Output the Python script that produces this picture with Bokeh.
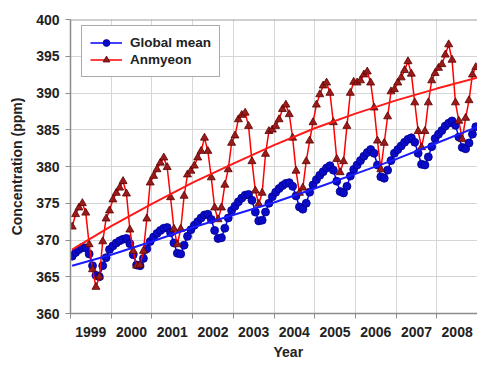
from bokeh.plotting import figure
from bokeh.models import (Range1d, FixedTicker, CustomJSTickFormatter, Span, Title,
                          Legend, LegendItem)
from bokeh.embed import file_html
from bokeh.resources import INLINE

years = list(range(1999, 2009))
year_labels = [str(y) for y in years]
y_ticks = [360, 365, 370, 375, 380, 385, 390, 395, 400]

anmyeon = [
    371.8, 373.5, 374.4, 375.0, 373.7, 369.4, 366.0, 363.6, 365.0, 369.8, 372.9, 374.0,
    375.5, 376.4, 377.1, 378.0, 376.3, 371.4, 368.5, 366.5, 366.6, 368.5, 372.9, 377.8,
    378.7, 379.6, 380.5, 381.2, 379.9, 375.8, 371.5, 369.4, 371.5, 376.0, 378.9, 379.4,
    380.1, 381.2, 382.1, 383.9, 382.1, 378.5, 374.4, 372.8, 374.4, 377.5, 379.6, 383.2,
    384.2, 386.4, 387.0, 387.3, 385.5, 380.7, 376.7, 374.9, 376.4, 381.7, 384.8, 385.0,
    385.5, 386.4, 387.8, 388.4, 387.1, 383.9, 379.4, 376.4, 377.1, 380.7, 383.5, 386.0,
    388.4, 389.8, 391.0, 391.4, 390.0, 386.0, 381.0, 379.2, 380.7, 385.5, 390.0, 391.5,
    391.4, 391.7, 392.5, 392.9, 391.4, 388.0, 383.5, 379.6, 383.2, 386.8, 390.2, 390.5,
    391.4, 392.1, 393.1, 394.3, 392.6, 388.7, 384.8, 382.6, 384.8, 388.7, 391.7, 392.7,
    393.4, 393.9, 395.2, 396.6, 394.5, 388.7, 386.2, 383.7, 386.6, 389.0, 392.5, 393.5,
]

global_mean = [
    367.8, 368.3, 368.7, 369.0, 368.9, 368.1, 366.5, 365.2, 365.0, 366.5, 367.6, 368.7,
    369.2, 369.6, 369.9, 370.1, 370.2, 369.5, 368.0, 366.6, 366.5, 367.5, 368.8, 369.8,
    370.4, 370.9, 371.3, 371.6, 371.7, 371.0, 369.6, 368.2, 368.1, 369.3, 370.5, 371.4,
    372.0, 372.5, 373.0, 373.4, 373.5, 372.8, 371.3, 370.2, 370.3, 371.6, 373.0, 374.0,
    374.6, 375.2, 375.7, 376.1, 376.2, 375.4, 373.8, 372.6, 372.7, 373.8, 375.0, 375.9,
    376.5, 377.0, 377.4, 377.7, 377.8, 377.3, 376.0, 374.5, 374.2, 375.0, 376.5, 377.5,
    378.2, 378.8, 379.3, 379.8, 380.1, 379.5, 378.0, 376.6, 376.4, 377.3, 378.7, 379.6,
    380.2, 380.8, 381.4, 381.9, 382.3, 381.8, 380.2, 378.6, 378.4, 379.5, 380.8, 381.8,
    382.3, 382.8, 383.3, 383.7, 383.9, 383.3, 381.8, 380.3, 380.2, 381.3, 382.7, 383.8,
    384.4, 384.9, 385.5, 385.9, 386.2, 385.6, 384.0, 382.6, 382.4, 383.2, 384.4, 385.4,
]

trend_years = [1999.04, 2000, 2001, 2002, 2003, 2004, 2005, 2006, 2007, 2008, 2009]
anmyeon_trend = [368.7, 371.9, 374.9, 377.8, 380.4, 382.9, 385.2, 387.2, 389.0, 390.6, 392.1]
global_trend = [366.5, 368.0, 369.8, 371.7, 373.4, 375.1, 377.0, 379.0, 381.0, 383.2, 385.4]

# month centres as decimal years
t = [y + (m + 0.5) / 12 for y in years for m in range(12)]

FONT = "Liberation Sans"
TXT = "#222222"
AX = "#8c8c8c"
GRID = "#d6d6d6"

p = figure(width=477, height=364, output_backend="svg", toolbar_location=None,
           x_range=Range1d(1999, 2009), y_range=Range1d(360, 400),
           min_border_left=70, min_border_right=0, min_border_top=19,
           min_border_bottom=51)
p.outline_line_color = None
p.background_fill_color = "white"
p.border_fill_color = "white"

# x axis: labels centred in each year, ticks at year boundaries
xa = p.xaxis[0]
xa.ticker = FixedTicker(ticks=[y + 0.5 for y in years],
                        minor_ticks=years + [years[-1] + 1])
xa.formatter = CustomJSTickFormatter(
    args=dict(labels=year_labels, first=years[0]),
    code="const i = Math.floor(tick) - first; return (i >= 0 && i < labels.length) ? labels[i] : '';")
xa.major_tick_out = 0
xa.major_tick_in = 0
xa.minor_tick_out = 5
xa.minor_tick_in = 0
xa.minor_tick_line_color = AX
xa.axis_line_color = AX
xa.axis_line_width = 1.5
xa.major_label_standoff = 8
xa.major_label_text_font = FONT
xa.major_label_text_font_style = "bold"
xa.major_label_text_font_size = "14px"
xa.major_label_text_color = TXT

ya = p.yaxis[0]
ya.ticker = FixedTicker(ticks=y_ticks)
ya.minor_tick_line_color = None
ya.major_tick_out = 5
ya.major_tick_in = 0
ya.major_tick_line_color = AX
ya.axis_line_color = AX
ya.axis_line_width = 1.5
ya.major_label_standoff = 6
ya.major_label_text_font = FONT
ya.major_label_text_font_style = "bold"
ya.major_label_text_font_size = "14px"
ya.major_label_text_color = TXT
ya.axis_label = "Concentration (ppm)"
ya.axis_label_text_font = FONT
ya.axis_label_text_font_style = "bold"
ya.axis_label_text_font_size = "14px"
ya.axis_label_text_color = TXT
ya.axis_label_standoff = 8

p.xgrid.ticker = FixedTicker(ticks=years + [years[-1] + 1])
p.xgrid.grid_line_color = GRID
p.ygrid.grid_line_color = GRID

p.add_layout(Span(location=400, dimension="width", line_color="#a0a0a0", line_width=2))

# series
r_bl = p.line(t, global_mean, line_color="#0000ff", line_width=1.5)
r_bs = p.scatter(t, global_mean, marker="circle", size=8,
                 fill_color="#0a0ac8", line_color="#00008b", line_width=0.8)
r_rl = p.line(t, anmyeon, line_color="#ff0000", line_width=1.5)
r_rs = p.scatter(t, anmyeon, marker="triangle", size=8,
                 fill_color="#9b1b1b", line_color="#5a0000", line_width=0.8)

# trend curves
p.line(trend_years, global_trend, line_color="#1a1aff", line_width=2)
p.line(trend_years, anmyeon_trend, line_color="#ff1a1a", line_width=2)

legend = Legend(items=[LegendItem(label="Global mean", renderers=[r_bl, r_bs]),
                       LegendItem(label="Anmyeon", renderers=[r_rl, r_rs])],
                location=(11, 236), padding=8, spacing=0, margin=0,
                glyph_width=32, glyph_height=17, label_height=17, label_standoff=8,
                border_line_color="#555555", border_line_width=1,
                background_fill_color="white", background_fill_alpha=1.0,
                label_text_font=FONT, label_text_font_style="bold",
                label_text_font_size="13.5px", label_text_color=TXT)
p.add_layout(legend)

p.add_layout(Title(text="Year", align="left", offset=203, standoff=5,
                   text_font=FONT, text_font_style="bold", text_font_size="14px",
                   text_color=TXT), "below")

open("out.html", "w").write(file_html(p, INLINE))
